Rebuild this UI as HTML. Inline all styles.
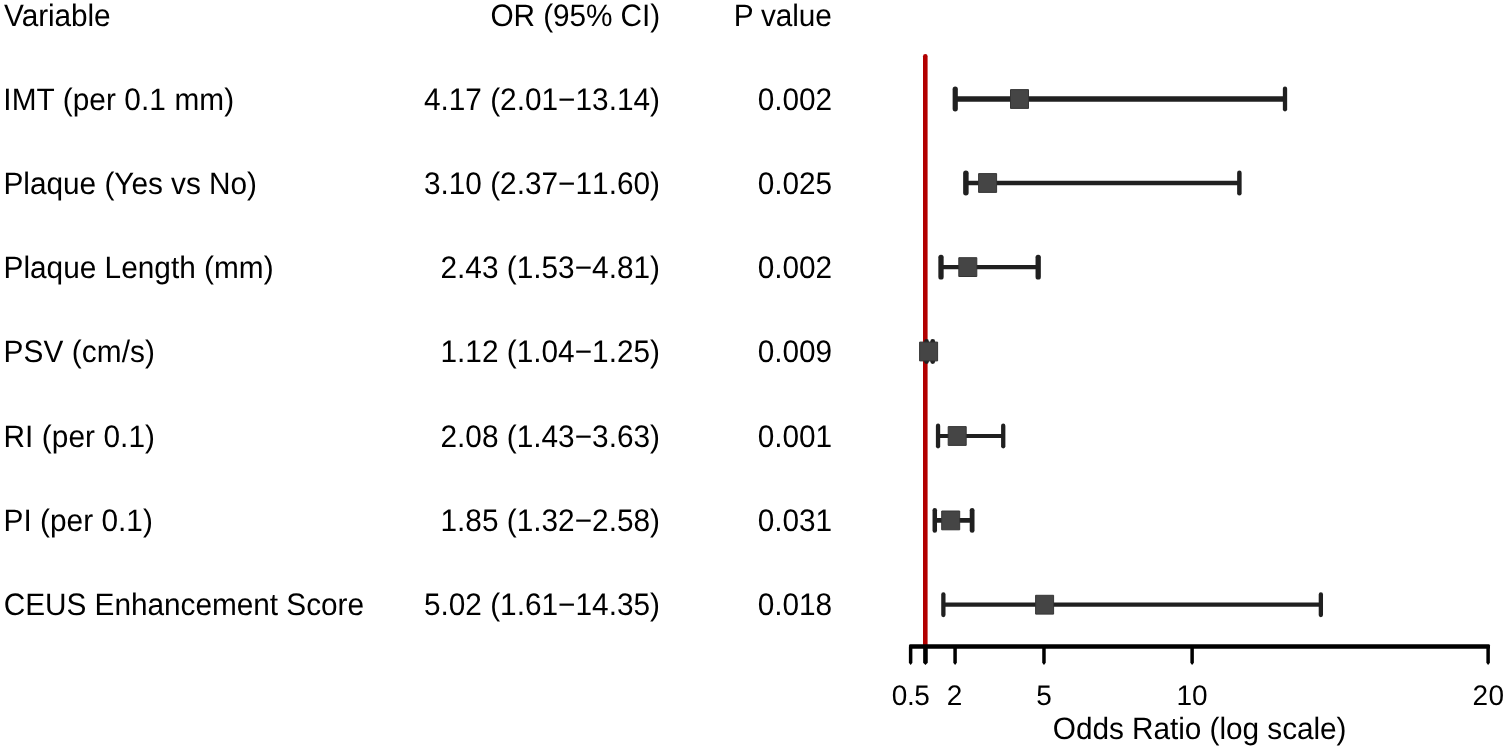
<!DOCTYPE html>
<html lang="en">
<head>
<meta charset="utf-8">
<title>Forest plot</title>
<style>
html,body{margin:0;padding:0;background:#fff;}
body{width:1507px;height:749px;overflow:hidden;}
svg{display:block;}
text{font-family:"Liberation Sans",Arial,Helvetica,sans-serif;font-size:29.8px;fill:#000;text-rendering:geometricPrecision;white-space:pre;}
.w{stroke:#202020;stroke-linecap:round;fill:none;}
.h{stroke:#202020;stroke-linecap:butt;fill:none;}
.b{fill:#454545;stroke:#353535;stroke-width:1;stroke-linejoin:round;}
.ax{stroke:#000;stroke-width:4.5;stroke-linecap:round;stroke-linejoin:round;fill:none;}
.tk{fill:#000;}
.ref{stroke:#b20000;stroke-width:4.6;stroke-linecap:round;fill:none;}
</style>
</head>
<body>
<svg width="1507" height="749" viewBox="0 0 1507 749">
<rect x="0" y="0" width="1507" height="749" fill="#fff"/>
<g>
<text transform="matrix(1 0 0 1.04 4.1 26)" style="letter-spacing:-0.079px;">Variable</text>
<text transform="matrix(1 0 0 1.04 490.5 26)" style="letter-spacing:-0.09px;">OR (95% CI)</text>
<text transform="matrix(1 0 0 1.04 733.8 26)" style="letter-spacing:-0.158px;">P value</text>
</g>
<line class="ref" x1="925.30" y1="56.3" x2="925.30" y2="646.60"/>
<g>
<text transform="matrix(1 0 0 1.04 3.3 110)" style="letter-spacing:0.083px;">IMT (per 0.1 mm)</text>
<text transform="matrix(1 0 0 1.045 423.9 110)" style="font-kerning:none;">4.17 (2.01−13.14)</text>
<text transform="matrix(1 0 0 1.045 757.7 110)" style="letter-spacing:-0.03px;font-kerning:none;">0.002</text>
<line class="h" stroke-width="5.6" x1="955.23" y1="99.00" x2="1285.01" y2="99.00"/>
<line class="w" stroke-width="5.2" x1="955.23" y1="89.15" x2="955.23" y2="108.85"/>
<line class="w" stroke-width="4.3" x1="1285.01" y1="88.70" x2="1285.01" y2="109.30"/>
<rect class="b" x="1010.50" y="89.60" width="18.0" height="18.8"/>
</g>
<g>
<text transform="matrix(1 0 0 1.04 3.5 194)" style="letter-spacing:-0.026px;">Plaque (Yes vs No)</text>
<text transform="matrix(1 0 0 1.045 423.9 194)" style="font-kerning:none;">3.10 (2.37−11.60)</text>
<text transform="matrix(1 0 0 1.045 757.7 194)" style="letter-spacing:-0.03px;font-kerning:none;">0.025</text>
<line class="h" stroke-width="4.6" x1="965.89" y1="183.00" x2="1239.38" y2="183.00"/>
<line class="w" stroke-width="5.5" x1="965.89" y1="173.30" x2="965.89" y2="192.70"/>
<line class="w" stroke-width="4.5" x1="1239.38" y1="172.80" x2="1239.38" y2="193.20"/>
<rect class="b" x="978.60" y="173.60" width="18.0" height="18.8"/>
</g>
<g>
<text transform="matrix(1 0 0 1.04 3.5 278)" style="letter-spacing:0.006px;">Plaque Length (mm)</text>
<text transform="matrix(1 0 0 1.045 440.5 278)" style="font-kerning:none;">2.43 (1.53−4.81)</text>
<text transform="matrix(1 0 0 1.045 757.7 278)" style="letter-spacing:-0.03px;font-kerning:none;">0.002</text>
<line class="h" stroke-width="4.4" x1="941.00" y1="267.10" x2="1038.19" y2="267.10"/>
<line class="w" stroke-width="5.3" x1="941.00" y1="257.30" x2="941.00" y2="276.90"/>
<line class="w" stroke-width="5.3" x1="1038.19" y1="257.30" x2="1038.19" y2="276.90"/>
<rect class="b" x="958.80" y="257.70" width="18.0" height="18.8"/>
</g>
<g>
<text transform="matrix(1 0 0 1.04 3.5 362)" style="letter-spacing:0.089px;">PSV (cm/s)</text>
<text transform="matrix(1 0 0 1.045 440.5 362)" style="font-kerning:none;">1.12 (1.04−1.25)</text>
<text transform="matrix(1 0 0 1.045 757.7 362)" style="letter-spacing:-0.03px;font-kerning:none;">0.009</text>
<line class="h" stroke-width="4.8" x1="926.49" y1="351.50" x2="932.71" y2="351.50"/>
<line class="w" stroke-width="4.8" x1="926.49" y1="341.45" x2="926.49" y2="361.55"/>
<line class="w" stroke-width="4.8" x1="932.71" y1="341.45" x2="932.71" y2="361.55"/>
<rect class="b" x="919.60" y="342.10" width="18.0" height="18.8"/>
</g>
<g>
<text transform="matrix(1 0 0 1.04 3.5 447)" style="letter-spacing:0.073px;">RI (per 0.1)</text>
<text transform="matrix(1 0 0 1.045 440.5 447)" style="font-kerning:none;">2.08 (1.43−3.63)</text>
<text transform="matrix(1 0 0 1.045 757.7 447)" style="letter-spacing:-0.03px;font-kerning:none;">0.001</text>
<line class="h" stroke-width="3.9" x1="938.04" y1="436.00" x2="1003.23" y2="436.00"/>
<line class="w" stroke-width="4.3" x1="938.04" y1="425.70" x2="938.04" y2="446.30"/>
<line class="w" stroke-width="4.3" x1="1003.23" y1="425.70" x2="1003.23" y2="446.30"/>
<rect class="b" x="948.20" y="426.60" width="18.0" height="18.8"/>
</g>
<g>
<text transform="matrix(1 0 0 1.04 3.5 531)" style="letter-spacing:0.027px;">PI (per 0.1)</text>
<text transform="matrix(1 0 0 1.045 440.5 531)" style="font-kerning:none;">1.85 (1.32−2.58)</text>
<text transform="matrix(1 0 0 1.045 757.7 531)" style="letter-spacing:-0.03px;font-kerning:none;">0.031</text>
<line class="h" stroke-width="4.8" x1="934.78" y1="520.40" x2="972.12" y2="520.40"/>
<line class="w" stroke-width="4.5" x1="934.78" y1="510.20" x2="934.78" y2="530.60"/>
<line class="w" stroke-width="4.8" x1="972.12" y1="510.35" x2="972.12" y2="530.45"/>
<rect class="b" x="941.70" y="511.00" width="18.0" height="18.8"/>
</g>
<g>
<text transform="matrix(1 0 0 1.04 3.65 615)" style="letter-spacing:-0.033px;">CEUS Enhancement Score</text>
<text transform="matrix(1 0 0 1.045 423.9 615)" style="font-kerning:none;">5.02 (1.61−14.35)</text>
<text transform="matrix(1 0 0 1.045 757.7 615)" style="letter-spacing:-0.03px;font-kerning:none;">0.018</text>
<line class="h" stroke-width="4.3" x1="943.37" y1="604.70" x2="1320.86" y2="604.70"/>
<line class="w" stroke-width="4.3" x1="943.37" y1="594.40" x2="943.37" y2="615.00"/>
<line class="w" stroke-width="4.3" x1="1320.86" y1="594.40" x2="1320.86" y2="615.00"/>
<rect class="b" x="1035.60" y="595.30" width="18.0" height="18.8"/>
</g>
<g>
<rect class="tk" x="909" y="644.15" width="581.0" height="4.7" rx="1.4"/>
<path class="tk" d="M908.88 646.60V662.80L910.63 664.90L912.38 662.80V646.60Z"/>
<path class="tk" d="M923.15 646.60V662.80L925.45 664.90L927.75 662.80V646.60Z"/>
<path class="tk" d="M953.33 646.60V662.80L955.08 664.90L956.83 662.80V646.60Z"/>
<path class="tk" d="M1042.22 646.60V662.80L1043.97 664.90L1045.72 662.80V646.60Z"/>
<path class="tk" d="M1190.37 646.60V662.80L1192.12 664.90L1193.87 662.80V646.60Z"/>
<path class="tk" d="M1486.37 646.60V662.80L1488.12 664.90L1489.87 662.80V646.60Z"/>
<text transform="matrix(1 0 0 1.01 891.85 705)" style="letter-spacing:-0.425px;font-size:28px;font-kerning:none;">0.5</text>
<text transform="matrix(1 0 0 1.01 946.75 705)" style="font-size:28px;font-kerning:none;">2</text>
<text transform="matrix(1 0 0 1.01 1036.35 705)" style="font-size:28px;font-kerning:none;">5</text>
<text transform="matrix(1 0 0 1.01 1176.55 705)" style="letter-spacing:-0.2px;font-size:28px;font-kerning:none;">10</text>
<text transform="matrix(1 0 0 1.01 1472.5 705)" style="letter-spacing:0.5px;font-size:28px;font-kerning:none;">20</text>
<text transform="matrix(1 0 0 1.035 1052.8 738.9)" style="letter-spacing:-0.05px;">Odds Ratio (log scale)</text>
</g>
</svg>
</body>
</html>
